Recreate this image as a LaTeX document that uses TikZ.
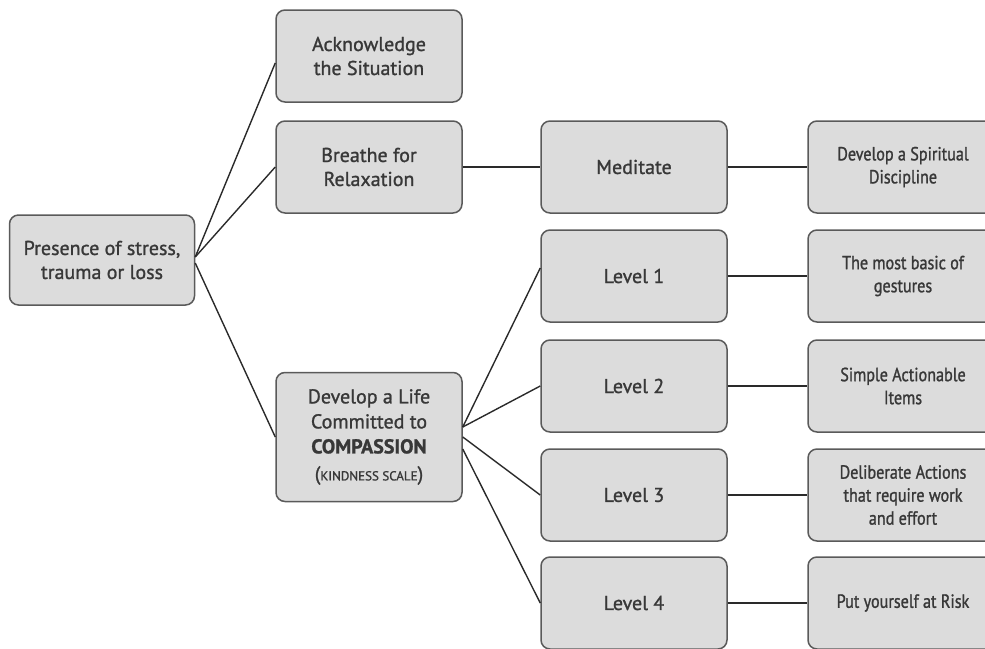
\documentclass[tikz,border=0pt]{standalone}
\usepackage{fontspec}
\setmainfont[FakeBold=1.2]{PT Sans}
\newfontfamily\narrowfont[FakeStretch=0.85,FakeBold=1.2]{PT Sans}
\definecolor{boxfill}{HTML}{DCDCDC}
\definecolor{boxline}{HTML}{5A5A5A}
\definecolor{boxtext}{HTML}{383838}
\definecolor{linkcol}{HTML}{2A2A2A}

\begin{document}
\begin{tikzpicture}[x=1pt,y=-1pt,
    box/.style={draw=boxline, fill=boxfill, line width=1.5pt, rounded corners=9pt,
        minimum width=186pt, minimum height=92pt, align=center, text=boxtext,
        font=\fontsize{20}{24}\selectfont},
    narrowbox/.style={box, minimum width=190pt, font=\narrowfont\fontsize{19}{23}\selectfont},
    link/.style={draw=linkcol, line width=1.4pt}]
    \useasboundingbox (0,0) rectangle (985,648);

    \node[box, minimum width=185pt, minimum height=90pt] (stress) at (102,260) {Presence of stress,\\trauma or loss};

    \node[box] (ack) at (369,56) {Acknowledge\\the Situation};
    \node[box] (breathe) at (369,167) {Breathe for\\Relaxation};
    \node[box, minimum height=129pt, font=\fontsize{20}{25}\selectfont] (life) at (369,437)
        {Develop a Life\\Committed to\\\textbf{COMPASSION}\\[2pt]({\fontsize{13}{14}\selectfont KINDNESS SCALE})};

    \node[box] (meditate) at (634,167) {Meditate};
    \node[box] (lvl1) at (634,276) {Level 1};
    \node[box] (lvl2) at (634,386) {Level 2};
    \node[box] (lvl3) at (634,495) {Level 3};
    \node[box] (lvl4) at (634,603) {Level 4};

    \node[narrowbox] (spirit) at (903,167) {Develop a Spiritual\\Discipline};
    \node[narrowbox] (basic) at (903,276) {The most basic of\\gestures};
    \node[narrowbox] (simple) at (903,386) {Simple Actionable\\Items};
    \node[narrowbox] (effort) at (903,495) {Deliberate Actions\\that require work\\and effort};
    \node[narrowbox] (risk) at (903,603) {Put yourself at Risk};

    \draw[link] ([yshift=3pt]stress.east) -- ([yshift=-7pt]ack.west);
    \draw[link] ([yshift=3pt]stress.east) -- (breathe.west);
    \draw[link] ([yshift=-3pt]stress.east) -- (life.west);

    \draw[link] (breathe.east) -- (meditate.west);
    \draw[link] (meditate.east) -- (spirit.west);

    \draw[link] ([yshift=10pt]life.east) -- ([yshift=8pt]lvl1.west);
    \draw[link] ([yshift=10pt]life.east) -- (lvl2.west);
    \draw[link] (life.east) -- (lvl3.west);
    \draw[link] ([yshift=-12pt]life.east) -- (lvl4.west);

    \draw[link] (lvl1.east) -- (basic.west);
    \draw[link] (lvl2.east) -- (simple.west);
    \draw[link] (lvl3.east) -- (effort.west);
    \draw[link] (lvl4.east) -- (risk.west);
\end{tikzpicture}
\end{document}
